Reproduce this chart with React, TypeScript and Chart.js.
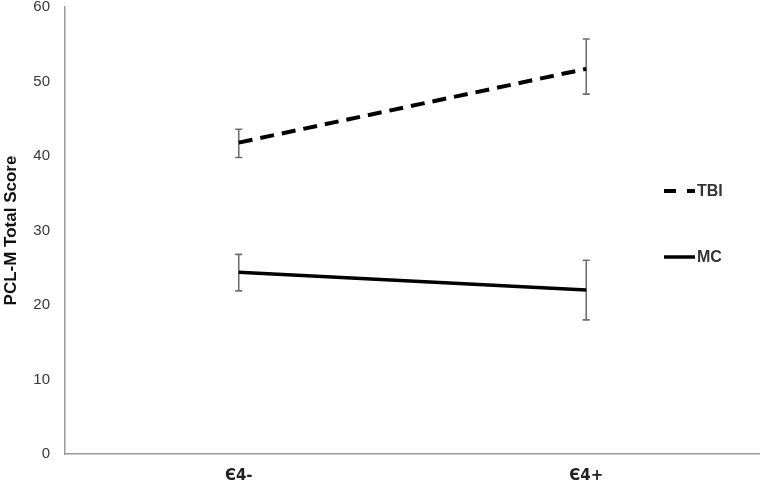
import React, { useEffect, useRef } from "react";
import { Chart, registerables } from "chart.js";

Chart.register(...registerables);

const categories = ["\u04044-", "\u04044+"];
const tbiMean = [41.8, 51.7];
const tbiLow = [39.8, 48.3];
const tbiHigh = [43.6, 55.7];
const mcMean = [24.4, 22.0];
const mcLow = [21.9, 18.0];
const mcHigh = [26.8, 26.0];
const yTicks = [0, 10, 20, 30, 40, 50, 60];

const errLows = [tbiLow, mcLow];
const errHighs = [tbiHigh, mcHigh];

const errorBarPlugin = {
  id: "errorBars",
  beforeDatasetsDraw(chart: any) {
    const ctx = chart.ctx;
    const x = chart.scales.x;
    const y = chart.scales.y;
    ctx.save();
    ctx.strokeStyle = "#6e6e6e";
    ctx.lineWidth = 1.6;
    errLows.forEach((lows, di) => {
      lows.forEach((lo: number, i: number) => {
        const hi = errHighs[di][i];
        const px = x.getPixelForValue(i);
        const py1 = y.getPixelForValue(lo);
        const py2 = y.getPixelForValue(hi);
        ctx.beginPath();
        ctx.moveTo(px, py1);
        ctx.lineTo(px, py2);
        ctx.moveTo(px - 3.5, py1);
        ctx.lineTo(px + 3.5, py1);
        ctx.moveTo(px - 3.5, py2);
        ctx.lineTo(px + 3.5, py2);
        ctx.stroke();
      });
    });
    ctx.restore();
  },
};

const legendPlugin = {
  id: "customLegend",
  afterDraw(chart: any) {
    const ctx = chart.ctx;
    ctx.save();
    const items = [
      { label: "TBI", dash: [12, 11], width: 4, y: 191 },
      { label: "MC", dash: [], width: 3.5, y: 257 },
    ];
    items.forEach((it) => {
      ctx.strokeStyle = "#000";
      ctx.lineWidth = it.width;
      ctx.setLineDash(it.dash);
      ctx.beginPath();
      ctx.moveTo(664, it.y);
      ctx.lineTo(695, it.y);
      ctx.stroke();
      ctx.setLineDash([]);
      ctx.fillStyle = "#333";
      ctx.font = "bold 16px 'Liberation Sans', Arial, sans-serif";
      ctx.textBaseline = "middle";
      ctx.textAlign = "left";
      ctx.fillText(it.label, 697, it.y + 1);
    });
    ctx.restore();
  },
};

export default function App() {
  const ref = useRef<HTMLCanvasElement>(null);
  useEffect(() => {
    if (!ref.current) return;
    const chart = new Chart(ref.current, {
      type: "line",
      data: {
        labels: categories,
        datasets: [
          {
            label: "TBI",
            data: tbiMean,
            borderColor: "#000",
            borderWidth: 4,
            borderDash: [14, 8],
            pointRadius: 0,
            fill: false,
          },
          {
            label: "MC",
            data: mcMean,
            borderColor: "#000",
            borderWidth: 3.5,
            pointRadius: 0,
            fill: false,
          },
        ],
      },
      options: {
        animation: false,
        responsive: false,
        layout: { padding: { top: 7, right: -3, left: 0, bottom: 0 } },
        plugins: { legend: { display: false }, tooltip: { enabled: false } },
        scales: {
          x: {
            type: "category",
            offset: true,
            grid: { display: false, drawTicks: false },
            border: { color: "#9a9a9a", width: 1.5 },
            ticks: {
              color: "#222",
              font: { family: "'DejaVu Sans', sans-serif", size: 15, weight: "bold" },
              padding: 13,
            },
            afterFit: (s: any) => {
              s.height = 32;
              s.paddingLeft = 0;
              s.paddingRight = 0;
            },
          },
          y: {
            min: 0,
            max: 60,
            afterBuildTicks: (s: any) => {
              s.ticks = yTicks.map((v) => ({ value: v }));
            },
            grid: { display: false, drawTicks: false },
            border: { color: "#9a9a9a", width: 1.5 },
            ticks: {
              color: "#383838",
              font: { family: "'Liberation Sans', Arial, sans-serif", size: 15 },
              padding: 15,
            },
            title: {
              display: true,
              text: "PCL-M Total Score",
              color: "#111",
              font: { family: "'Liberation Sans', Arial, sans-serif", size: 17, weight: "bold" },
              padding: { top: 1, bottom: 0 },
            },
            afterFit: (s: any) => {
              s.width = 65;
              s.paddingTop = 0;
              s.paddingBottom = 0;
            },
          },
        },
      },
      plugins: [errorBarPlugin, legendPlugin],
    });
    return () => chart.destroy();
  }, []);
  return (
    <div style={{ position: "fixed", left: 0, top: 0, width: 760, height: 486, background: "#fff" }}>
      <canvas ref={ref} width={760} height={486} />
    </div>
  );
}
